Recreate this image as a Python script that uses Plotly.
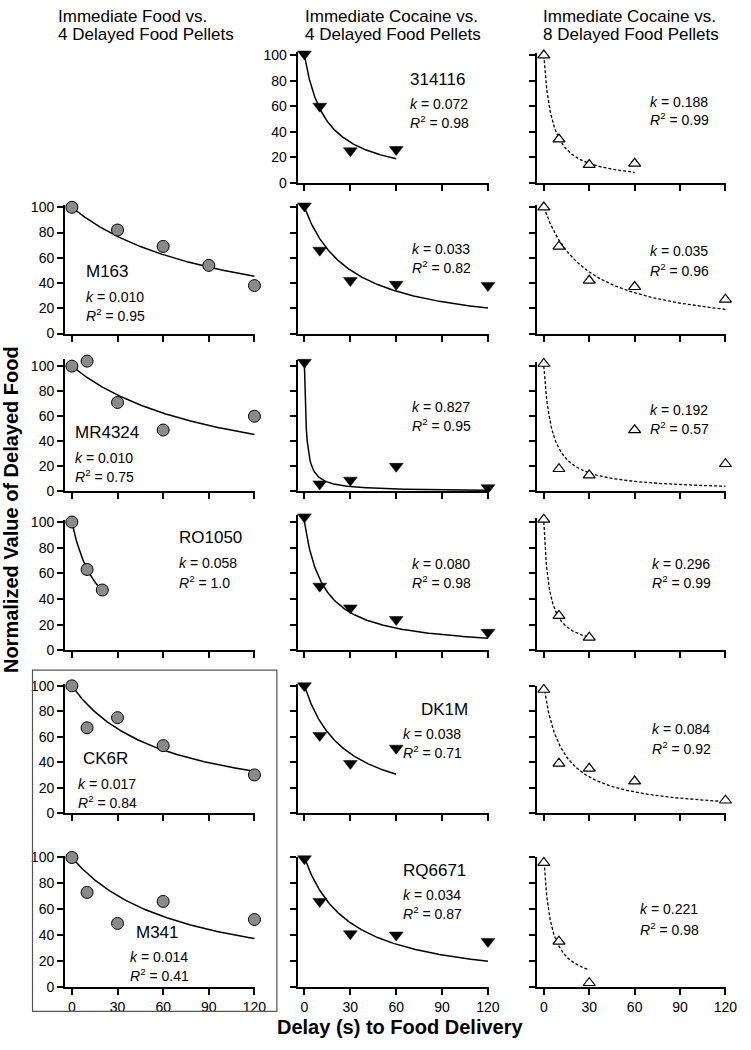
import plotly.graph_objects as go

W, H = 751, 1050

# ---- data: delay (s) and normalized value of delayed food ----
# column 1: immediate food vs. 4 delayed food pellets
delays_m163 = [0, 30, 60, 90, 120]
value_m163 = [100, 82, 69, 54, 38]
delays_mr4324 = [0, 10, 30, 60, 120]
value_mr4324 = [100, 104, 71, 49, 60]
delays_ro1050 = [0, 10, 20]
value_ro1050 = [100, 63, 47]
delays_ck6r = [0, 10, 30, 60, 120]
value_ck6r = [100, 67, 75, 53, 30]
delays_m341 = [0, 10, 30, 60, 120]
value_m341 = [100, 73, 49, 66, 52]

# column 2: immediate cocaine vs. 4 delayed food pellets
delays_coc4 = [
    [0, 10, 30, 60],
    [0, 10, 30, 60, 120],
    [0, 10, 30, 60, 120],
    [0, 10, 30, 60, 120],
    [0, 10, 30, 60],
    [0, 10, 30, 60, 120],
]
value_coc4 = [
    [101, 60, 25, 26],
    [101, 66, 42, 39, 38],
    [103, 6, 9, 20, 3],
    [104, 50, 33, 24, 14],
    [100, 61, 39, 51],
    [99, 66, 41, 40, 35],
]

# column 3: immediate cocaine vs. 8 delayed food pellets
delays_coc8 = [
    [0, 10, 30, 60],
    [0, 10, 30, 60, 120],
    [0, 10, 30, 60, 120],
    [0, 10, 30],
    [0, 10, 30, 60, 120],
    [0, 10, 30],
]
value_coc8 = [
    [100, 34, 14, 15],
    [100, 69, 42, 37, 27],
    [102, 18, 13, 49, 22],
    [102, 27, 10],
    [97, 39, 35, 25, 10],
    [96, 35, 3],
]

subjects_food = [None, "M163", "MR4324", "RO1050", "CK6R", "M341"]
subjects_coc4 = ["314116", None, None, None, "DK1M", "RQ6671"]
k_food = [0.010, 0.010, 0.058, 0.017, 0.014]
r2_food = ["0.95", "0.75", "1.0", "0.84", "0.41"]
k_coc4 = [0.072, 0.033, 0.827, 0.080, 0.038, 0.034]
r2_coc4 = ["0.98", "0.82", "0.95", "0.98", "0.71", "0.87"]
k_coc8 = [0.188, 0.035, 0.192, 0.296, 0.084, 0.221]
r2_coc8 = ["0.99", "0.96", "0.57", "0.99", "0.92", "0.98"]
col_titles = [
    ["Immediate Food vs.", "4 Delayed Food Pellets"],
    ["Immediate Cocaine vs.", "4 Delayed Food Pellets"],
    ["Immediate Cocaine vs.", "8 Delayed Food Pellets"],
]
x_ticks = [0, 30, 60, 90, 120]
y_ticks = [0, 20, 40, 60, 80, 100]

# ---- layout geometry (pixels) ----
col_px = [(66, 259), (302, 496), (545, 737)]
row_px = [(50, 179), (204, 332), (365, 492), (523, 653), (689, 818), (863, 994)]
title_left = [57, 307, 549]

# text positions per panel: (label x, label y, stats x, k y, R2 y) in data units
text_pos = {
    (0, 1): (8, 49, 8, 29, 15),
    (0, 2): (1, 47, 1, 27, 12),
    (0, 3): (69, 88, 69, 68, 53),
    (0, 4): (6, 43, 3, 23, 9),
    (0, 5): (41, 42, 37, 23, 9),
    (1, 0): (68, 81, 68, 62, 48),
    (1, 1): (None, None, 69, 67, 53),
    (1, 2): (None, None, 69, 67, 53),
    (1, 3): (None, None, 69, 67, 53),
    (1, 4): (75, 81, 63, 62, 48),
    (1, 5): (63, 90, 63, 71, 57),
    (2, 0): (None, None, 69, 63, 50),
    (2, 1): (None, None, 69, 65, 50),
    (2, 2): (None, None, 69, 65, 51),
    (2, 3): (None, None, 70, 67, 53),
    (2, 4): (None, None, 70, 66, 51),
    (2, 5): (None, None, 62, 60, 45),
}

styles = [
    dict(marker=dict(symbol="circle", size=12, color="#8a8a8a",
                     line=dict(color="black", width=1)),
         line=dict(color="black", width=1.5)),
    dict(marker=dict(symbol="triangle-down", size=12, color="black",
                     line=dict(color="black", width=0.5)),
         line=dict(color="black", width=1.5)),
    dict(marker=dict(symbol="triangle-up", size=10.5, color="white",
                     line=dict(color="black", width=1.2)),
         line=dict(color="black", width=1.3, dash="3px,2px")),
]

food_delays = [None, delays_m163, delays_mr4324, delays_ro1050, delays_ck6r, delays_m341]
food_values = [None, value_m163, value_mr4324, value_ro1050, value_ck6r, value_m341]
food_k = [None] + k_food
food_r2 = [None] + r2_food

panels = []
for r in range(6):
    if food_delays[r] is not None:
        panels.append((0, r, food_delays[r], food_values[r], food_k[r], food_r2[r],
                       subjects_food[r]))
for r in range(6):
    panels.append((1, r, delays_coc4[r], value_coc4[r], k_coc4[r], r2_coc4[r],
                   subjects_coc4[r]))
for r in range(6):
    panels.append((2, r, delays_coc8[r], value_coc8[r], k_coc8[r], r2_coc8[r], None))


def px_x(p):
    return p / W


def px_y(p):
    return 1 - p / H


fig = go.Figure()
annotations = []
font = dict(family="Arial", color="black")

for i, (c, r, d, v, k, r2, name) in enumerate(panels, start=1):
    xa, ya = f"x{i}", f"y{i}"
    ymax = max(100, max(v) + 1.5)
    y100, y0 = row_px[r]
    ytop = y0 - (y0 - y100) * ymax / 100

    # hyperbolic fit V = 100 / (1 + k*D) using the printed k, over the tested delays
    n = 200
    xs = [max(d) * j / n for j in range(n + 1)]
    ys = [100 / (1 + k * x) for x in xs]
    fig.add_trace(go.Scatter(x=xs, y=ys, mode="lines", line=styles[c]["line"],
                             xaxis=xa, yaxis=ya, hoverinfo="skip", showlegend=False))
    fig.add_trace(go.Scatter(x=d, y=v, mode="markers", marker=styles[c]["marker"],
                             cliponaxis=False, xaxis=xa, yaxis=ya, showlegend=False))

    ax = dict(domain=[px_x(col_px[c][0]), px_x(col_px[c][1])], range=[-4.5, 120.5],
              anchor=ya, showline=True, linecolor="black", linewidth=2,
              ticks="outside", ticklen=6, tickwidth=2, tickcolor="black",
              tickvals=x_ticks, showticklabels=(r == 5), showgrid=False,
              zeroline=False, tickfont=dict(size=14, **font))
    ay = dict(domain=[px_y(y0), px_y(ytop)], range=[0, ymax], anchor=xa,
              showline=True, linecolor="black", linewidth=2,
              ticks="outside", ticklen=6, tickwidth=2, tickcolor="black",
              tickvals=y_ticks, showticklabels=(c == 0 or (c == 1 and r == 0)),
              showgrid=False, zeroline=False, tickfont=dict(size=14, **font))
    key = "" if i == 1 else str(i)
    fig.layout["xaxis" + key] = ax
    fig.layout["yaxis" + key] = ay

    lx, ly, sx, ky, ry = text_pos[(c, r)]
    if name is not None:
        annotations.append(dict(x=lx, y=ly, xref=xa, yref=ya, text=name,
                                showarrow=False, xanchor="left", yanchor="middle",
                                font=dict(size=17, **font)))
    annotations.append(dict(x=sx, y=ky, xref=xa, yref=ya, text=f"<i>k</i> = {k:.3f}",
                            showarrow=False, xanchor="left", yanchor="middle",
                            font=dict(size=14, **font)))
    annotations.append(dict(x=sx, y=ry, xref=xa, yref=ya,
                            text=f"<i>R</i><sup>2</sup> = {r2}",
                            showarrow=False, xanchor="left", yanchor="middle",
                            font=dict(size=14, **font)))

for c in range(3):
    for j, line in enumerate(col_titles[c]):
        annotations.append(dict(x=px_x(title_left[c]), y=px_y(11 + 18 * j),
                                xref="paper", yref="paper", text=line,
                                showarrow=False, xanchor="left", yanchor="middle",
                                font=dict(size=17, **font)))

annotations.append(dict(x=px_x(11), y=px_y(510), xref="paper", yref="paper",
                        text="<b>Normalized Value of Delayed Food</b>", textangle=-90,
                        showarrow=False, xanchor="center", yanchor="middle",
                        font=dict(size=20, **font)))
annotations.append(dict(x=px_x(406), y=px_y(1035), xref="paper", yref="paper",
                        text="<b>Delay (s) to Food Delivery</b>",
                        showarrow=False, xanchor="center", yanchor="middle",
                        font=dict(size=20, **font)))

fig.update_layout(
    width=W, height=H,
    margin=dict(l=0, r=0, t=0, b=0),
    paper_bgcolor="white", plot_bgcolor="white",
    annotations=annotations,
    shapes=[dict(type="rect", xref="paper", yref="paper",
                 x0=px_x(33), x1=px_x(281), y0=px_y(1019), y1=px_y(673),
                 line=dict(color="#555555", width=1.2))],
)

# drop the browser's default page margin so the figure sits at the window origin
fig.write_html("out.html", config={"displayModeBar": False},
               post_script="document.body.style.margin = '0';")
